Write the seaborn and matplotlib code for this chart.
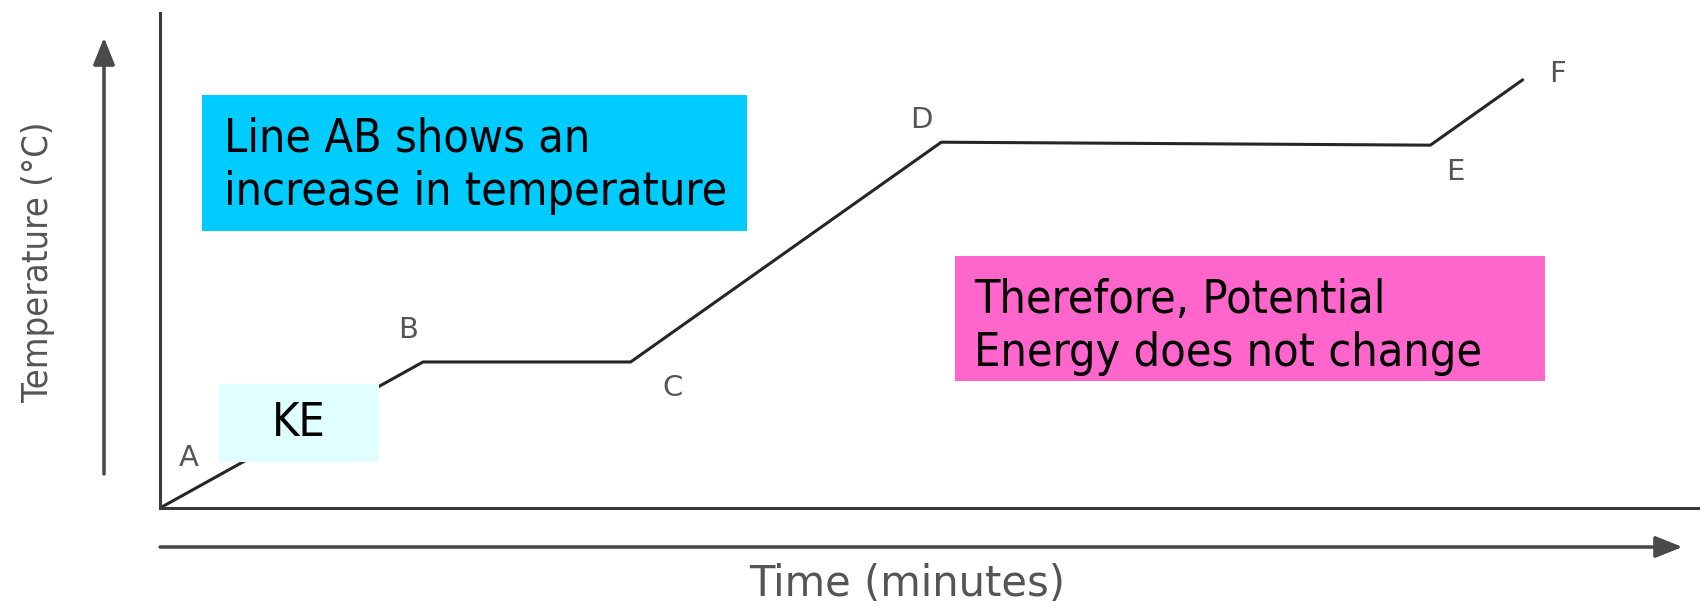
import matplotlib
matplotlib.use("Agg")
import matplotlib.pyplot as plt
from matplotlib.patches import Rectangle
import seaborn as sns

# heating curve points (time vs temperature, arbitrary units)
time_pts = [0, 17.1, 30.6, 50.8, 82.6, 88.6]
temp_pts = [0, 29.5, 29.5, 73.9, 73.3, 86.5]
point_names = ["A", "B", "C", "D", "E", "F"]

note_ab = "Line AB shows an\nincrease in temperature"
note_pe = "Therefore, Potential\nEnergy does not change"
note_ke = "KE"

W, H = 1704, 608

sns.set_style("white")
plt.rcParams["font.family"] = ["DejaVu Sans"]

fig = plt.figure(figsize=(W / 100, H / 100), dpi=100)
fig.patch.set_facecolor("white")


def fx(px):
    return px / W


def fy(py):
    return 1 - py / H


ax = fig.add_axes([fx(160), fy(508), (1698 - 160) / W, (508 - 13) / H])
sns.lineplot(x=time_pts, y=temp_pts, sort=False, ax=ax, color="#262626", linewidth=2.2)
ax.set_xlim(0, 100)
ax.set_ylim(0, 100)
ax.set_xticks([])
ax.set_yticks([])
ax.set_xlabel("")
ax.set_ylabel("")
for side in ["top", "right"]:
    ax.spines[side].set_visible(False)
for side in ["left", "bottom"]:
    ax.spines[side].set_color("#3a3a3a")
    ax.spines[side].set_linewidth(2.2)

# point letters, offset from each corner (points)
offsets = [(21, 36), (-11, 23), (30, -19), (-14, 16), (18, -19), (25, 4)]
for name, xv, yv, off in zip(point_names, time_pts, temp_pts, offsets):
    ax.annotate(name, (xv, yv), xytext=off, textcoords="offset points",
                ha="center", va="center", fontsize=21, color="#555555")

# axis direction arrows
arrow_kw = dict(arrowstyle="-|>,head_length=0.55,head_width=0.22", mutation_scale=30,
                color="#4a4a4a", lw=2.2, shrinkA=0, shrinkB=0)
fig.add_artist(plt.annotate("", xy=(fx(104), fy(38)), xytext=(fx(104), fy(474)),
                            xycoords="figure fraction", arrowprops=arrow_kw))
fig.add_artist(plt.annotate("", xy=(fx(1682), fy(547)), xytext=(fx(160), fy(547)),
                            xycoords="figure fraction", arrowprops=arrow_kw))

fig.text(fx(38), fy(262), "Temperature (°C)", rotation=90, ha="center", va="center",
         fontsize=26, color="#555555", fontstretch="condensed")
fig.text(fx(907), fy(584), "Time (minutes)", ha="center", va="center",
         fontsize=30, color="#555555")

# coloured note boxes
boxes = [
    (202, 95, 747, 231, "#00CCFF"),
    (955, 256, 1545, 381, "#FF66CC"),
    (219, 384, 379, 462, "#E0FFFF"),
]
for x0, y0, x1, y1, col in boxes:
    fig.add_artist(Rectangle((fx(x0), fy(y1)), (x1 - x0) / W, (y1 - y0) / H,
                             transform=fig.transFigure, facecolor=col,
                             edgecolor="none", zorder=5))

txt_kw = dict(fontsize=33.5, color="black", fontstretch="condensed", zorder=6,
              linespacing=1.22)
fig.text(fx(224), fy(117), note_ab, ha="left", va="top", **txt_kw)
fig.text(fx(974), fy(278), note_pe, ha="left", va="top", **txt_kw)
fig.text(fx(299), fy(423), note_ke, ha="center", va="center", **txt_kw)

fig.savefig("out.png", dpi=100)
